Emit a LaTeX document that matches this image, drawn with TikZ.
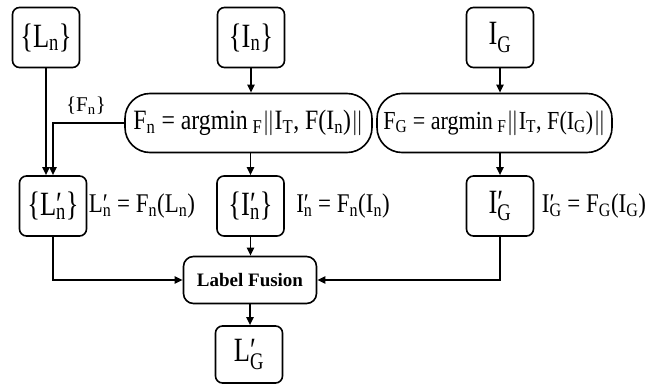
\documentclass[tikz,border=0pt]{standalone}
\usepackage{fontspec}
\setmainfont{Liberation Serif}
\newfontfamily\cond[FakeStretch=0.85]{Liberation Serif}
\newfontfamily\condb[FakeStretch=0.78]{Liberation Serif}
\usetikzlibrary{arrows.meta}
\newcommand{\ps}[1]{\rlap{′}\textsubscript{#1}}
\tikzset{
  box/.style={draw, rounded corners=7pt, line width=1.6pt, minimum width=67pt, minimum height=60pt, inner sep=0pt, font=\condb\fontsize{34}{36}\selectfont},
  fbox/.style={draw, rounded corners=25pt, line width=1.6pt, minimum height=59pt, inner sep=0pt, font=\cond\fontsize{28}{30}\selectfont},
  lbl/.style={inner sep=0pt, font=\cond\fontsize{27}{30}\selectfont},
  lfbox/.style={draw, rounded corners=10pt, line width=1.6pt, minimum width=133pt, minimum height=47pt, inner sep=0pt, font=\bfseries\fontsize{19}{20}\selectfont},
  arr/.style={-{Triangle[length=8pt,width=7pt]}, line width=1.8pt}
}
\begin{document}
\begin{tikzpicture}[x=1pt,y=-1pt]
\useasboundingbox (0,0) rectangle (663,385);
\node[box] (Ln) at (46,37.5) {\{L\textsubscript{n}\}};
\node[box] (In) at (251,37.5) {\{I\textsubscript{n}\}};
\node[box] (IG) at (500,37.5) {I\textsubscript{G}};
\node[fbox, minimum width=247pt] (Fn) at (248.5,123) {F\textsubscript{n} = argmin\,\textsubscript{F}$\|$I\textsubscript{T}, F(I\textsubscript{n})$\|$};
\node[fbox, minimum width=235pt, font=\cond\fontsize{26}{30}\selectfont] (FG) at (494.5,123) {F\textsubscript{G} = argmin\,\textsubscript{F}$\|$I\textsubscript{T}, F(I\textsubscript{G})$\|$};
\node[box] (Lpn) at (53,206) {\{L\ps{n}\}};
\node[box] (Ipn) at (250.5,206) {\{I\ps{n}\}};
\node[box] (IpG) at (500,206) {I\ps{G}};
\node[lbl] (lab1) at (142,206) {L\ps{n} = F\textsubscript{n}(L\textsubscript{n})};
\node[lbl] (lab2) at (343,206) {I\ps{n} = F\textsubscript{n}(I\textsubscript{n})};
\node[lbl] (lab3) at (594,206) {I\ps{G} = F\textsubscript{G}(I\textsubscript{G})};
\node[lfbox] (LF) at (250,280) {Label Fusion};
\node[box, minimum height=57pt] (LG) at (249,354.5) {L\ps{G}};
\node[inner sep=0pt, font=\fontsize{21}{22}\selectfont] (Fset) at (86,106) {\{F\textsubscript{n}\}};
\draw[arr] (Ln.south) -- (Ln.south |- Lpn.north);
\draw[arr] (Fn.west) -| (Lpn.north);
\draw[arr] (In.south) -- (In.south |- Fn.north);
\draw[arr] (IG.south) -- (IG.south |- FG.north);
\draw[arr] (Ipn.north |- Fn.south) -- (Ipn.north);
\draw[arr] (IpG.north |- FG.south) -- (IpG.north);
\draw[arr] (Lpn.south) |- (LF.west);
\draw[arr] (IpG.south) |- (LF.east);
\draw[arr] (Ipn.south) -- (Ipn.south |- LF.north);
\draw[arr] (LF.south) -- (LF.south |- LG.north);
\end{tikzpicture}
\end{document}
